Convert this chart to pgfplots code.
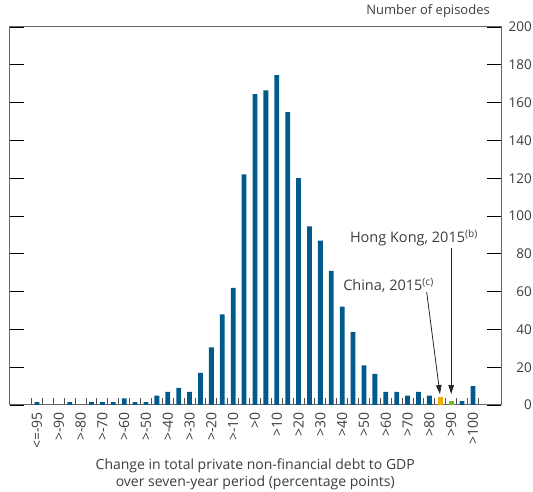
\documentclass[border=0pt]{standalone}
\usepackage{fontspec}
\setmainfont{Open Sans}
\usepackage{pgfplots}
\pgfplotsset{compat=1.18}
\usetikzlibrary{arrows.meta}
\definecolor{boeblue}{HTML}{005A8C}
\definecolor{boeorange}{HTML}{F5A800}
\definecolor{boegreen}{HTML}{78B928}
\definecolor{txt}{HTML}{3D3D3D}
\begin{document}
\begin{tikzpicture}[font=\fontsize{14}{17}\selectfont, text=txt]
\path[use as bounding box] (-9.5pt,-87pt) rectangle (523.5pt,405pt);
\begin{axis}[
    at={(0,0)}, anchor=south west,
    scale only axis, width=491.5pt, height=378pt,
    xmin=-2.52, xmax=42.57, ymin=0, ymax=200,
    enlargelimits=false, clip=false,
    axis line style={black!60, line width=1pt},
    tick align=inside,
    xtick={0,2,...,40},
    xticklabels={<=-95,>-90,>-80,>-70,>-60,>-50,>-40,>-30,>-20,>-10,>0,>10,>20,>30,>40,>50,>60,>70,>80,>90,>100},
    minor xtick={-0.5,0.5,...,40.5},
    xtick pos=left,
    major tick length=14pt, minor tick length=7pt,
    major x tick style={draw=none},
    minor x tick style={black!70, line width=0.9pt},
    major y tick style={black, line width=0.8pt},
    xticklabel style={yshift=-7pt, rotate=90, anchor=east, inner sep=0pt, font=\fontsize{14}{16}\selectfont},
    ytick={0,20,...,200},
    ytick pos=both, yticklabel pos=right,
    yticklabel style={anchor=east, inner sep=0pt, xshift=31pt, font=\fontsize{13.5}{15}\selectfont},
    /pgf/number format/assume math mode=true,
    xlabel={Change in total private non-financial debt to GDP\\over seven-year period (percentage points)},
    xlabel style={at={(axis description cs:0.5,0)}, anchor=north, yshift=-54pt, inner sep=0pt, align=center},
]
% episodes by bucket, index 0 = <=-95, then >-95, >-90, ... , >100
\addplot[ybar, bar width=4.8pt, bar shift=0pt, fill=boeblue, draw=none] coordinates {
    (0,1.5) (3,1.5) (5,1.5) (6,1.5) (7,1.5) (8,3.5) (9,1.5) (10,1.5)
    (11,5) (12,7) (13,9) (14,7) (15,17) (16,30.5) (17,48) (18,62)
    (19,122) (20,164.5) (21,166.5) (22,174.5) (23,155) (24,120)
    (25,94.5) (26,87) (27,71) (28,52) (29,38.5) (30,21) (31,16.5)
    (32,7) (33,7) (34,5) (35,7) (36,5) (39,2) (40,10)
};
% China, 2015
\addplot[ybar, bar width=4.8pt, bar shift=0pt, fill=boeorange, draw=none] coordinates {(37,4)};
% Hong Kong, 2015
\addplot[ybar, bar width=4.8pt, bar shift=0pt, fill=boegreen, draw=none] coordinates {(38,2)};

\node[anchor=base east, inner sep=0pt, font=\fontsize{14.5}{17}\selectfont] at (axis cs:40.46,86.1) {Hong Kong, 2015\textsuperscript{(b)}};
\node[anchor=base east, inner sep=0pt, font=\fontsize{14.5}{17}\selectfont] at (axis cs:36.42,60.5) {China, 2015\textsuperscript{(c)}};
\draw[-{Triangle[length=9pt,width=5.5pt]}, black!85, line width=0.8pt] (axis cs:38,83) -- (axis cs:38,5.8);
\draw[-{Triangle[length=9pt,width=5.5pt]}, black!85, line width=0.8pt] (axis cs:35.75,59.8) -- (axis cs:36.97,5.8);
\node[anchor=base east, inner sep=0pt, font=\fontsize{13}{15}\selectfont] at (rel axis cs:1,1) [xshift=-11pt, yshift=12pt] {Number of episodes};
\end{axis}
\end{tikzpicture}
\end{document}
